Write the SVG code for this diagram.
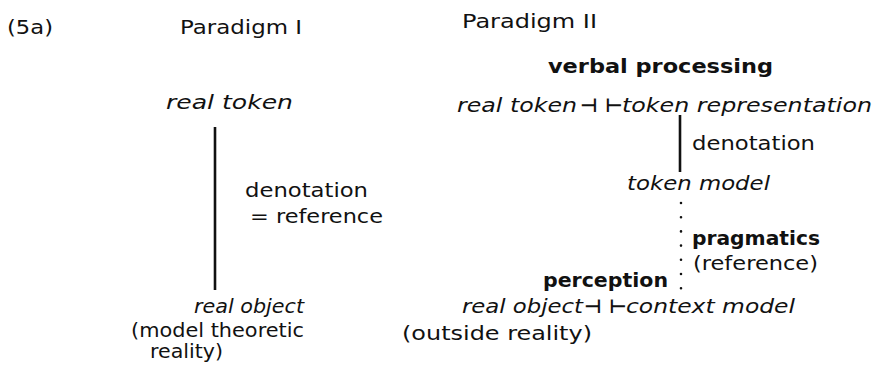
<svg xmlns="http://www.w3.org/2000/svg" width="875" height="367" viewBox="0 0 875 367">
<style>
text{font-family:"DejaVu Sans","Liberation Sans",sans-serif;font-size:19px;fill:#111}
.i{font-style:italic}
.b{font-weight:bold;font-size:19px}
.sym{font-weight:bold}
.ln{stroke:#111;stroke-width:2.6;fill:none}
.dot{stroke:#111;stroke-width:2.6;fill:none;stroke-linecap:round;stroke-dasharray:0 14.2}
</style>
<rect width="875" height="367" fill="#fff"/>
<g id="labels">
<text x="7" y="34" textLength="46" lengthAdjust="spacingAndGlyphs">(5a)</text>
<text x="180" y="34" textLength="122" lengthAdjust="spacingAndGlyphs">Paradigm I</text>
<text x="462" y="28" textLength="135" lengthAdjust="spacingAndGlyphs">Paradigm II</text>
</g>
<g id="connectors">
<line class="ln" x1="215" y1="127" x2="215" y2="290"/>
<line class="ln" x1="680" y1="115" x2="680" y2="172"/>
<line class="dot" x1="681" y1="203" x2="681" y2="289"/>
</g>
<g id="p1-real-token"><text class="i" x="166" y="109" textLength="127" lengthAdjust="spacingAndGlyphs">real token</text></g>
<g id="p1-denotation">
<text x="245" y="197" textLength="123" lengthAdjust="spacingAndGlyphs">denotation</text>
<text x="250" y="223" textLength="133" lengthAdjust="spacingAndGlyphs">= reference</text>
</g>
<g id="p1-real-object">
<text class="i" x="194" y="313" textLength="110" lengthAdjust="spacingAndGlyphs">real object</text>
<text x="131" y="337" textLength="173" lengthAdjust="spacingAndGlyphs">(model theoretic</text>
<text x="150" y="358" textLength="73" lengthAdjust="spacingAndGlyphs">reality)</text>
</g>
<g id="p2-verbal-processing"><text class="b" x="548" y="73" textLength="225" lengthAdjust="spacingAndGlyphs">verbal processing</text></g>
<g id="p2-token-row">
<text class="i" x="457" y="112" textLength="120" lengthAdjust="spacingAndGlyphs">real token</text>
<text class="sym" x="580" y="112">⊣</text>
<text class="sym" x="605" y="112">⊢</text>
<text class="i" x="622" y="112" textLength="250" lengthAdjust="spacingAndGlyphs">token representation</text>
</g>
<g id="p2-denotation"><text x="692" y="150" textLength="123" lengthAdjust="spacingAndGlyphs">denotation</text></g>
<g id="p2-token-model"><text class="i" x="627" y="190" textLength="143" lengthAdjust="spacingAndGlyphs">token model</text></g>
<g id="p2-pragmatics">
<text class="b" x="692" y="245" textLength="128" lengthAdjust="spacingAndGlyphs">pragmatics</text>
<text x="693" y="270" textLength="125" lengthAdjust="spacingAndGlyphs">(reference)</text>
</g>
<g id="p2-perception"><text class="b" x="543" y="287" textLength="125" lengthAdjust="spacingAndGlyphs">perception</text></g>
<g id="p2-object-row">
<text class="i" x="462" y="313" textLength="121" lengthAdjust="spacingAndGlyphs">real object</text>
<text class="sym" x="584" y="313">⊣</text>
<text class="sym" x="609" y="313">⊢</text>
<text class="i" x="626" y="313" textLength="169" lengthAdjust="spacingAndGlyphs">context model</text>
<text x="402" y="340" textLength="190" lengthAdjust="spacingAndGlyphs">(outside reality)</text>
</g>
</svg>
